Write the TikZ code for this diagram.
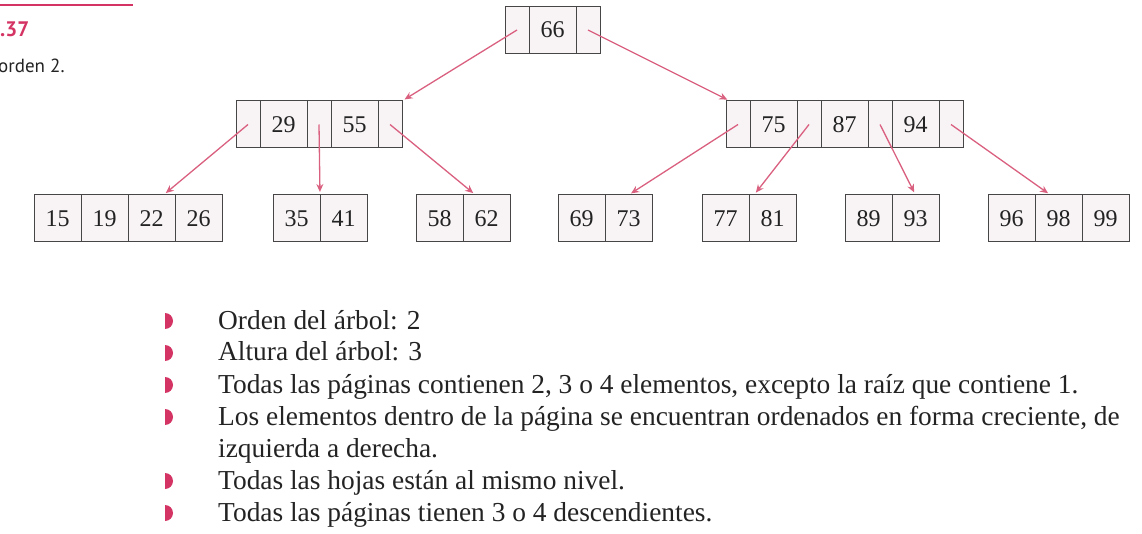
\documentclass[tikz,border=0pt]{standalone}
\usepackage{fontspec}
\setmainfont{Liberation Serif}
\newfontfamily\capfont{PT Sans}
\usepackage{tikz}
\usetikzlibrary{arrows.meta, positioning}

\definecolor{rosa}{RGB}{218,96,128}
\definecolor{vineta}{RGB}{212,52,100}
\definecolor{borde}{RGB}{70,70,70}
\definecolor{celda}{RGB}{248,244,246}
\definecolor{tinta}{RGB}{35,35,35}

\begin{document}
\begin{tikzpicture}[x=1pt, y=1pt, node distance=0pt,
    clave/.style={draw=borde, fill=celda, line width=1pt, outer sep=0pt, inner sep=0pt,
        minimum width=47pt, minimum height=47pt, text=tinta, font=\fontsize{24}{24}\selectfont},
    puntero/.style={clave, minimum width=24pt},
    hijo/.style={draw=rosa, line width=1.3pt, -{Stealth[length=8pt, width=7pt]}, shorten >=3pt},
    texto/.style={anchor=base west, inner sep=0pt, text=tinta, font=\fontsize{27.4}{33}\selectfont}]
    \useasboundingbox (0,0) rectangle (1142,533);

    \draw[vineta, line width=2.5pt] (0,528) -- (133,528);
    \node[anchor=base west, inner sep=0pt, text=vineta, font=\capfont\bfseries\fontsize{21}{21}\selectfont] (num) at (0,496) {.37};
    \node[anchor=base west, inner sep=0pt, text=tinta, font=\capfont\fontsize{19}{19}\selectfont] (cap) at (-2,460) {orden 2.};

    \node[puntero, anchor=west] (q0) at (505,503) {};
    \node[clave, right=of q0] (n66) {66};
    \node[puntero, right=of n66] (q1) {};

    \node[puntero, anchor=west] (la) at (236,408.5) {};
    \node[clave, right=of la] (n29) {29};
    \node[puntero, right=of n29] (lb) {};
    \node[clave, right=of lb] (n55) {55};
    \node[puntero, right=of n55] (lc) {};

    \node[puntero, anchor=west] (ra) at (726,408.5) {};
    \node[clave, right=of ra] (n75) {75};
    \node[puntero, right=of n75] (rb) {};
    \node[clave, right=of rb] (n87) {87};
    \node[puntero, right=of n87] (rc) {};
    \node[clave, right=of rc] (n94) {94};
    \node[puntero, right=of n94] (rd) {};

    \node[clave, anchor=west] (n15) at (34,314.5) {15};
    \node[clave, right=of n15] (n19) {19};
    \node[clave, right=of n19] (n22) {22};
    \node[clave, right=of n22] (n26) {26};
    \node[clave, anchor=west] (n35) at (273,314.5) {35};
    \node[clave, right=of n35] (n41) {41};
    \node[clave, anchor=west] (n58) at (416,314.5) {58};
    \node[clave, right=of n58] (n62) {62};
    \node[clave, anchor=west] (n69) at (558,314.5) {69};
    \node[clave, right=of n69] (n73) {73};
    \node[clave, anchor=west] (n77) at (702,314.5) {77};
    \node[clave, right=of n77] (n81) {81};
    \node[clave, anchor=west] (n89) at (845,314.5) {89};
    \node[clave, right=of n89] (n93) {93};
    \node[clave, anchor=west] (n96) at (988,314.5) {96};
    \node[clave, right=of n96] (n98) {98};
    \node[clave, right=of n98] (n99) {99};

    \draw[hijo] (q0.center) -- (lc.north east);
    \draw[hijo] (q1.center) -- ([xshift=4pt]ra.north west);
    \draw[hijo] (la.center) -- ([xshift=12pt]n22.north);
    \draw[hijo] (lb.center) -- (n35.north east);
    \draw[hijo] (lc.center) -- ([xshift=-11pt]n62.north);
    \draw[hijo] (ra.center) -- (n73.north);
    \draw[hijo] (rb.center) -- ([xshift=5pt]n77.north east);
    \draw[hijo] (rc.center) -- (n93.north);
    \draw[hijo] (rd.center) -- ([xshift=-8pt]n98.north);

    \foreach \y in {204,172,140,108,44,12}
        \fill[vineta] (165,\y+16) arc[start angle=90, end angle=-90, x radius=8, y radius=8] -- cycle;
    \node[texto] (t1) at (218,204) {Orden del árbol: 2};
    \node[texto] (t2) at (218,172) {Altura del árbol: 3};
    \node[texto] (t3) at (218,140) {Todas las páginas contienen 2, 3 o 4 elementos, excepto la raíz que contiene 1.};
    \node[texto] (t4) at (218,108) {Los elementos dentro de la página se encuentran ordenados en forma creciente, de};
    \node[texto] (t5) at (218,76) {izquierda a derecha.};
    \node[texto] (t6) at (218,44) {Todas las hojas están al mismo nivel.};
    \node[texto] (t7) at (218,12) {Todas las páginas tienen 3 o 4 descendientes.};
\end{tikzpicture}
\end{document}
